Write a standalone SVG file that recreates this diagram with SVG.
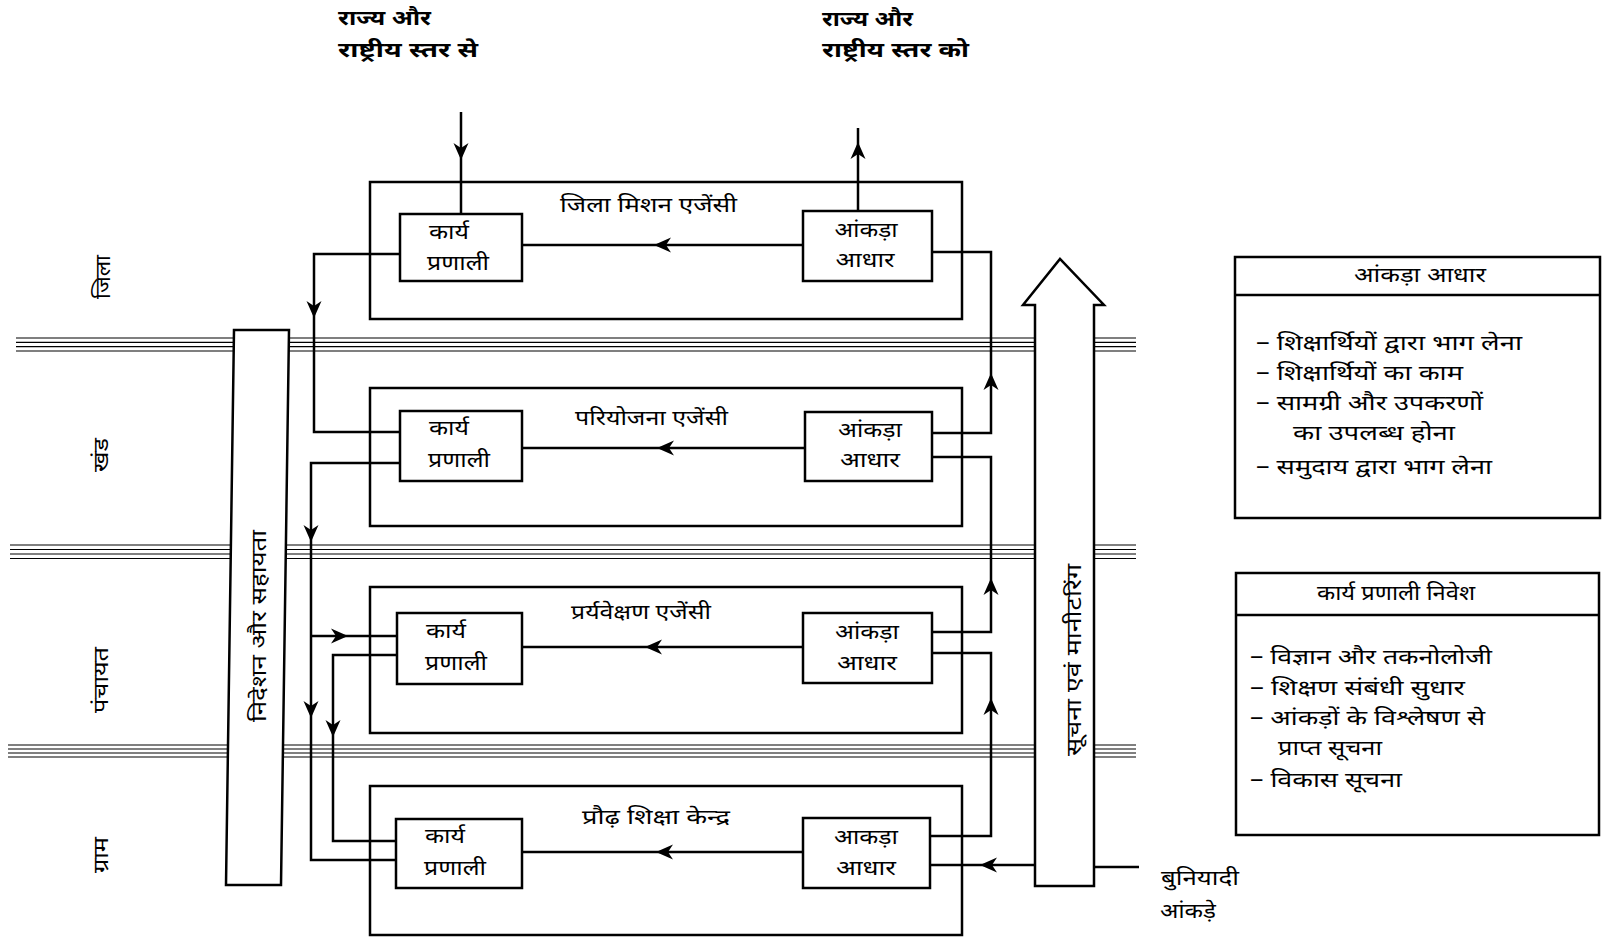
<svg xmlns="http://www.w3.org/2000/svg" xmlns:xlink="http://www.w3.org/1999/xlink" width="1602" height="939" viewBox="0 0 1602 939">
<style>
text{font-family:"Noto Sans Devanagari","Lohit Devanagari","Noto Sans","DejaVu Sans",sans-serif;fill:#000;font-size:21px}
.hd{font-weight:bold;font-size:21px}
.bx{font-size:21px}
.ag{font-size:20px}
.lg{font-size:21px}
.vt{font-size:20px}
.c{text-anchor:middle}
.frame{fill:none;stroke:#000;stroke-width:2.5}
.ibox{fill:#fff;stroke:#000;stroke-width:2.5}
.wbox{fill:#fff;stroke:#000;stroke-width:2.5;stroke-linejoin:miter}
.sep line{stroke:#000;stroke-width:1.2}
.cn{fill:none;stroke:#000;stroke-width:2.5}
.ah{fill:#000}
</style>
<defs>
<path id="ah" d="M0,0 L-17,-7.5 L-12,0 L-17,7.5 Z"/>
</defs>
<rect width="1602" height="939" fill="#fff"/>

<g id="separators" class="sep">
<line x1="16" y1="338" x2="1136" y2="338"/><line x1="16" y1="342.3" x2="1136" y2="342.3"/><line x1="16" y1="346.6" x2="1136" y2="346.6"/><line x1="16" y1="351" x2="1136" y2="351"/>
<line x1="10" y1="545" x2="1136" y2="545"/><line x1="10" y1="549.5" x2="1136" y2="549.5"/><line x1="10" y1="554" x2="1136" y2="554"/><line x1="10" y1="558.5" x2="1136" y2="558.5"/>
<line x1="8" y1="745" x2="1136" y2="745"/><line x1="8" y1="749" x2="1136" y2="749"/><line x1="8" y1="753" x2="1136" y2="753"/><line x1="8" y1="757" x2="1136" y2="757"/>
</g>

<g id="level-labels">
<text class="c" transform="translate(110,277) rotate(-90)" textLength="44" lengthAdjust="spacingAndGlyphs">जिला</text>
<text class="c" transform="translate(108,455) rotate(-90)" textLength="34" lengthAdjust="spacingAndGlyphs">खंड</text>
<text class="c" transform="translate(108,680) rotate(-90)" textLength="66" lengthAdjust="spacingAndGlyphs">पंचायत</text>
<text class="c" transform="translate(108,855) rotate(-90)" textLength="36" lengthAdjust="spacingAndGlyphs">ग्राम</text>
</g>

<g id="headers">
<text class="hd" x="338" y="25" textLength="93" lengthAdjust="spacingAndGlyphs">राज्य और</text>
<text class="hd" x="338" y="57" textLength="140" lengthAdjust="spacingAndGlyphs">राष्ट्रीय स्तर से</text>
<text class="hd" x="822" y="26" textLength="91" lengthAdjust="spacingAndGlyphs">राज्य और</text>
<text class="hd" x="822" y="57" textLength="147" lengthAdjust="spacingAndGlyphs">राष्ट्रीय स्तर को</text>
</g>

<g id="agency-district">
<rect class="frame" x="370" y="182" width="592" height="137"/>
<text class="ag" x="560" y="212" textLength="177" lengthAdjust="spacingAndGlyphs">जिला मिशन एजेंसी</text>
</g>
<g id="agency-project">
<rect class="frame" x="370" y="388" width="592" height="138"/>
<text class="ag" x="575" y="425" textLength="153" lengthAdjust="spacingAndGlyphs">परियोजना एजेंसी</text>
</g>
<g id="agency-supervision">
<rect class="frame" x="370" y="587" width="592" height="146"/>
<text class="ag" x="571" y="619" textLength="140" lengthAdjust="spacingAndGlyphs">प्रर्यवेक्षण एजेंसी</text>
</g>
<g id="agency-centre">
<rect class="frame" x="370" y="786" width="592" height="149"/>
<text class="ag" x="582" y="824" textLength="148" lengthAdjust="spacingAndGlyphs">प्रौढ़ शिक्षा केन्द्र</text>
</g>

<g id="connectors">
<path class="cn" d="M461,112 L461,214"/>
<use xlink:href="#ah" class="ah" transform="translate(461,160) rotate(90)"/>
<path class="cn" d="M858,211 L858,128"/>
<use xlink:href="#ah" class="ah" transform="translate(858,142) rotate(-90)"/>
<path class="cn" d="M803,245 L522,245"/>
<use xlink:href="#ah" class="ah" transform="translate(654,245) rotate(180)"/>
<path class="cn" d="M805,448 L522,448"/>
<use xlink:href="#ah" class="ah" transform="translate(657,448) rotate(180)"/>
<path class="cn" d="M803,647 L522,647"/>
<use xlink:href="#ah" class="ah" transform="translate(645,647) rotate(180)"/>
<path class="cn" d="M803,852 L522,852"/>
<use xlink:href="#ah" class="ah" transform="translate(656,852) rotate(180)"/>
<path class="cn" d="M932,433 L991,433 L991,252 L932,252"/>
<use xlink:href="#ah" class="ah" transform="translate(991,373) rotate(-90)"/>
<path class="cn" d="M932,632 L991,632 L991,457 L932,457"/>
<use xlink:href="#ah" class="ah" transform="translate(991,578) rotate(-90)"/>
<path class="cn" d="M930,836 L991,836 L991,653 L932,653"/>
<use xlink:href="#ah" class="ah" transform="translate(991,698) rotate(-90)"/>
<path class="cn" d="M1139,867 L1094,867"/>
<path class="cn" d="M1035,865 L930,865"/>
<use xlink:href="#ah" class="ah" transform="translate(980,865) rotate(180)"/>
<path class="cn" d="M400,254 L314,254 L314,432 L400,432"/>
<use xlink:href="#ah" class="ah" transform="translate(314,318) rotate(90)"/>
<path class="cn" d="M400,463 L311,463 L311,860 L396,860"/>
<use xlink:href="#ah" class="ah" transform="translate(311,542) rotate(90)"/>
<use xlink:href="#ah" class="ah" transform="translate(311,718) rotate(90)"/>
<path class="cn" d="M311,636 L397,636"/>
<use xlink:href="#ah" class="ah" transform="translate(348,636)"/>
<path class="cn" d="M397,655 L333,655 L333,841 L396,841"/>
<use xlink:href="#ah" class="ah" transform="translate(333,737) rotate(90)"/>
</g>

<g id="karya-1">
<rect class="ibox" x="400" y="214" width="122" height="67"/>
<text class="bx" x="429" y="239" textLength="40" lengthAdjust="spacingAndGlyphs">कार्य</text>
<text class="bx" x="427" y="270" textLength="62" lengthAdjust="spacingAndGlyphs">प्रणाली</text>
</g>
<g id="karya-2">
<rect class="ibox" x="400" y="411" width="122" height="70"/>
<text class="bx" x="429" y="435" textLength="40" lengthAdjust="spacingAndGlyphs">कार्य</text>
<text class="bx" x="428" y="467" textLength="62" lengthAdjust="spacingAndGlyphs">प्रणाली</text>
</g>
<g id="karya-3">
<rect class="ibox" x="397" y="613" width="125" height="71"/>
<text class="bx" x="426" y="638" textLength="40" lengthAdjust="spacingAndGlyphs">कार्य</text>
<text class="bx" x="425" y="670" textLength="62" lengthAdjust="spacingAndGlyphs">प्रणाली</text>
</g>
<g id="karya-4">
<rect class="ibox" x="396" y="819" width="126" height="69"/>
<text class="bx" x="425" y="843" textLength="40" lengthAdjust="spacingAndGlyphs">कार्य</text>
<text class="bx" x="424" y="875" textLength="62" lengthAdjust="spacingAndGlyphs">प्रणाली</text>
</g>

<g id="data-1">
<rect class="ibox" x="803" y="211" width="129" height="70"/>
<text class="bx c" x="866" y="237" textLength="63" lengthAdjust="spacingAndGlyphs">आंकड़ा</text>
<text class="bx c" x="865" y="267" textLength="59" lengthAdjust="spacingAndGlyphs">आधार</text>
</g>
<g id="data-2">
<rect class="ibox" x="805" y="412" width="127" height="69"/>
<text class="bx c" x="870" y="437" textLength="64" lengthAdjust="spacingAndGlyphs">आंकड़ा</text>
<text class="bx c" x="870" y="467" textLength="60" lengthAdjust="spacingAndGlyphs">आधार</text>
</g>
<g id="data-3">
<rect class="ibox" x="803" y="613" width="129" height="70"/>
<text class="bx c" x="867" y="639" textLength="64" lengthAdjust="spacingAndGlyphs">आंकड़ा</text>
<text class="bx c" x="867" y="670" textLength="60" lengthAdjust="spacingAndGlyphs">आधार</text>
</g>
<g id="data-4">
<rect class="ibox" x="803" y="818" width="127" height="70"/>
<text class="bx c" x="866" y="844" textLength="64" lengthAdjust="spacingAndGlyphs">आकड़ा</text>
<text class="bx c" x="866" y="875" textLength="60" lengthAdjust="spacingAndGlyphs">आधार</text>
</g>

<g id="guidance-support">
<polygon class="wbox" points="234,330 289,330 281,885 226,885"/>
<text class="vt c" transform="translate(266,626) rotate(-90)" textLength="192" lengthAdjust="spacingAndGlyphs">निदेशन और सहायता</text>
</g>

<g id="info-monitoring">
<polygon class="wbox" points="1035,886 1035,305 1023,305 1060,259 1104,305 1094,305 1094,886"/>
<text class="vt c" transform="translate(1081,660) rotate(-90)" textLength="192" lengthAdjust="spacingAndGlyphs">सूचना एवं मानीटरिंग</text>
</g>

<g id="basic-data">
<text class="bx" x="1161" y="885" textLength="78" lengthAdjust="spacingAndGlyphs">बुनियादी</text>
<text class="bx" x="1160" y="918" textLength="56" lengthAdjust="spacingAndGlyphs">आंकड़े</text>
</g>

<g id="legend-data">
<rect class="frame" x="1235" y="257" width="365" height="261"/>
<line x1="1235" y1="295" x2="1600" y2="295" stroke="#000" stroke-width="2.5"/>
<text class="lg c" x="1420" y="282" textLength="132" lengthAdjust="spacingAndGlyphs">आंकड़ा आधार</text>
<text class="lg" x="1256" y="350" textLength="266" lengthAdjust="spacingAndGlyphs">– शिक्षार्थियों द्वारा भाग लेना</text>
<text class="lg" x="1256" y="380" textLength="207" lengthAdjust="spacingAndGlyphs">– शिक्षार्थियों का काम</text>
<text class="lg" x="1256" y="410" textLength="227" lengthAdjust="spacingAndGlyphs">– सामग्री और उपकरणों</text>
<text class="lg" x="1293" y="440" textLength="162" lengthAdjust="spacingAndGlyphs">का उपलब्ध होना</text>
<text class="lg" x="1256" y="474" textLength="236" lengthAdjust="spacingAndGlyphs">– समुदाय द्वारा भाग लेना</text>
</g>

<g id="legend-method">
<rect class="frame" x="1236" y="573" width="363" height="262"/>
<line x1="1236" y1="615" x2="1599" y2="615" stroke="#000" stroke-width="2.5"/>
<text class="lg c" x="1396" y="600" textLength="158" lengthAdjust="spacingAndGlyphs">कार्य प्रणाली निवेश</text>
<text class="lg" x="1250" y="664" textLength="242" lengthAdjust="spacingAndGlyphs">– विज्ञान और तकनोलोजी</text>
<text class="lg" x="1250" y="695" textLength="215" lengthAdjust="spacingAndGlyphs">– शिक्षण संबंधी सुधार</text>
<text class="lg" x="1250" y="725" textLength="235" lengthAdjust="spacingAndGlyphs">– आंकड़ों के विश्लेषण से</text>
<text class="lg" x="1278" y="755" textLength="104" lengthAdjust="spacingAndGlyphs">प्राप्त सूचना</text>
<text class="lg" x="1250" y="787" textLength="152" lengthAdjust="spacingAndGlyphs">– विकास सूचना</text>
</g>
</svg>
